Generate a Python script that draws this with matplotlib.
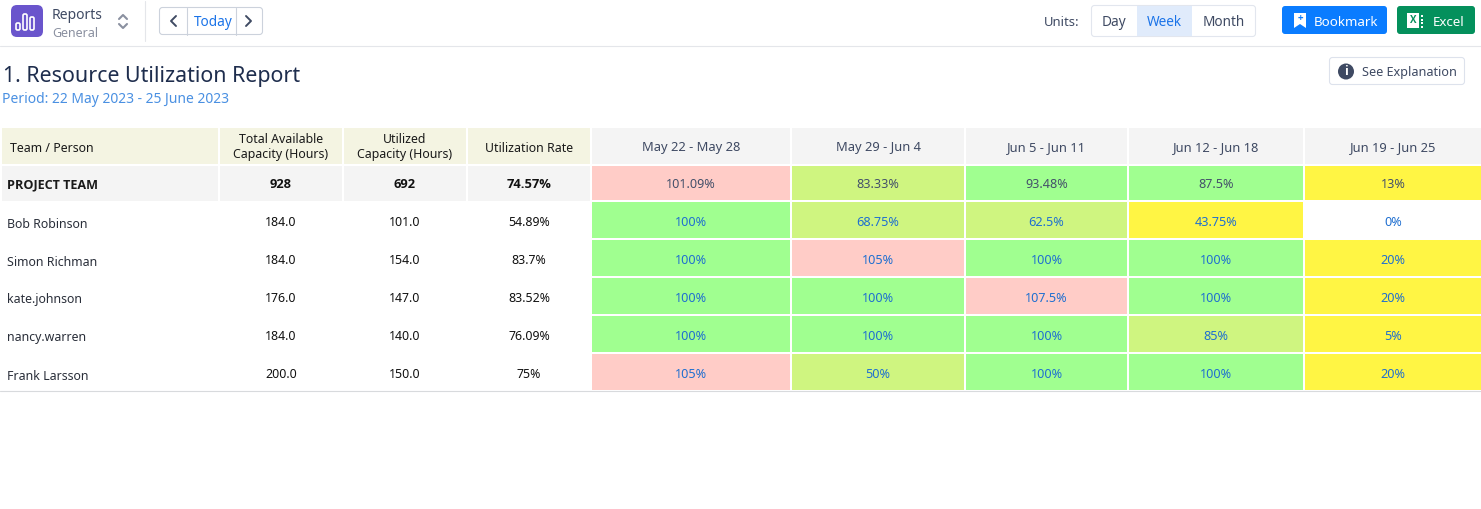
import matplotlib
matplotlib.use('Agg')
import matplotlib.pyplot as plt
from matplotlib.patches import FancyBboxPatch, Rectangle, Circle, Polygon

plt.rcParams['font.family'] = ['Noto Sans', 'DejaVu Sans']

# table data
people = ['Bob Robinson', 'Simon Richman', 'kate.johnson', 'nancy.warren', 'Frank Larsson']
total_hours = ['184.0', '184.0', '176.0', '184.0', '200.0']
used_hours = ['101.0', '154.0', '147.0', '140.0', '150.0']
rates = ['54.89%', '83.7%', '83.52%', '76.09%', '75%']
team_row = ['928', '692', '74.57%']
weeks = ['May 22 - May 28', 'May 29 - Jun 4', 'Jun 5 - Jun 11', 'Jun 12 - Jun 18', 'Jun 19 - Jun 25']
team_weeks = [101.09, 83.33, 93.48, 87.5, 13]
person_weeks = [
    [100, 68.75, 62.5, 43.75, 0],
    [100, 105, 100, 100, 20],
    [100, 100, 107.5, 100, 20],
    [100, 100, 100, 85, 5],
    [105, 50, 100, 100, 20],
]

# layout in pixels
col_x = [(2, 218), (220, 342), (344, 466), (468, 590), (592, 790),
         (792, 964), (966, 1127), (1129, 1303), (1305, 1481)]
row_y = [(166, 200), (202, 238), (240, 276), (278, 314), (316, 352), (354, 390)]
NAVY = '#1e2d4d'
GREY = '#3f4a63'
BLUE = '#1a73e8'
CREAM = '#f4f4e2'
LIGHT = '#f4f4f4'


def cell_colour(v):
    if v > 100:
        return '#ffccc7'
    if v >= 86:
        return '#a0ff90'
    if v >= 50:
        return '#cff580'
    if v > 0:
        return '#fff544'
    return 'white'


def pct(v):
    return f'{v:g}%'


fig = plt.figure(figsize=(14.81, 5.09), dpi=100)
ax = fig.add_axes([0, 0, 1, 1])
ax.set_xlim(0, 1481)
ax.set_ylim(509, 0)
ax.axis('off')


def box(x0, y0, x1, y1, fc, ec='none', r=3, lw=1, z=2):
    p = FancyBboxPatch((x0 + r, y0 + r), x1 - x0 - 2 * r, y1 - y0 - 2 * r,
                       boxstyle=f'round,pad={r},rounding_size={r}',
                       fc=fc, ec=ec, lw=lw, zorder=z)
    ax.add_patch(p)


def rect(x0, y0, x1, y1, fc, z=1):
    ax.add_patch(Rectangle((x0, y0), x1 - x0, y1 - y0, fc=fc, ec='none', zorder=z))


def txt(x, y, s, size=9.4, color='#222222', ha='center', weight='normal', **kw):
    if weight == 'bold':
        # Noto Sans here has no bold face, Open Sans does
        kw['family'] = ['Open Sans', 'DejaVu Sans']
    ax.text(x, y, s, fontsize=size, color=color, ha=ha, va='center',
            fontweight=weight, zorder=5, **kw)


def line(xs, ys, color, lw=1.0, z=3):
    ax.plot(xs, ys, color=color, lw=lw, zorder=z, solid_capstyle='round')


# top bar
line([0, 1481], [46, 46], '#e4e6ea', 0.8)
line([144.5, 144.5], [1, 41], '#e4e6ea', 0.8)
box(11, 5, 43, 37, '#6a55cc', r=6)
for bx, by in [(18, 23), (25, 14), (32, 17)]:
    box(bx - 2, by, bx + 2, 30, 'none', ec='white', r=1.5, lw=1.2, z=3)
txt(52, 15, 'Reports', 10, GREY, ha='left')
txt(52, 33, 'General', 9, '#8a90a0', ha='left')
line([119, 123, 127], [19, 15, 19], '#8a90a0', 1.5)
line([119, 123, 127], [24, 28, 24], '#8a90a0', 1.5)

box(159.5, 7.5, 262.5, 34.5, 'white', ec='#ccd2dc', lw=0.8)
line([186.5, 186.5], [8, 34.5], '#ccd2dc', 0.8)
line([235.5, 235.5], [8, 34.5], '#ccd2dc', 0.8)
line([176, 171, 176], [16, 21, 26], GREY, 1.4)
line([246, 251, 246], [16, 21, 26], GREY, 1.4)
txt(213, 22, 'Today', 9.8, BLUE)

txt(1062, 22, 'Units:', 9.4, GREY)
box(1091.5, 5.5, 1255.5, 36.5, 'white', ec='#e2e6ee', lw=0.8)
rect(1137, 6, 1192, 36, '#e0ebfb', z=3)
txt(1114, 22, 'Day', 9.8, GREY)
txt(1164, 22, 'Week', 9.8, BLUE)
txt(1224, 22, 'Month', 9.8, GREY)

box(1282, 6, 1387, 34, '#0a7cff', r=3)
ax.add_patch(Polygon([(1294, 13), (1306, 13), (1306, 28), (1300, 24), (1294, 28)],
                     fc='white', ec='none', zorder=3))
txt(1300, 18.5, '+', 7, '#0a7cff', weight='bold')
txt(1346, 22, 'Bookmark', 9.6, 'white')
box(1397, 6, 1475, 34, '#04905c', r=3)
rect(1407, 13, 1419, 28, 'white', z=3)
txt(1413, 20.5, 'X', 7, '#04905c', weight='bold')
for ly in [15, 18.5, 22, 25.5]:
    rect(1421, ly, 1423, ly + 2, 'white', z=3)
txt(1449, 22, 'Excel', 9.6, 'white')

# heading
txt(3, 76, '1. Resource Utilization Report', 15.4, NAVY, ha='left')
txt(2.5, 99, 'Period: 22 May 2023 - 25 June 2023', 10, '#4a90e2', ha='left')
box(1329.5, 57.5, 1464.5, 84.5, 'white', ec='#dde2ec', lw=0.8)
ax.add_patch(Circle((1346, 71.5), 8, fc=GREY, ec='none', zorder=3))
txt(1346, 71.5, 'i', 9, 'white', weight='bold')
txt(1362, 72, 'See Explanation', 9.1, GREY, ha='left')

# header row
for i, (x0, x1) in enumerate(col_x):
    rect(x0, 128, x1, 164, CREAM if i < 4 else LIGHT)
txt(10, 148.5, 'Team / Person', 8.9, '#1a1a1a', ha='left')
txt(281, 147, 'Total Available\nCapacity (Hours)', 8.9, '#1a1a1a', linespacing=1.15)
txt(405, 147, 'Utilized\nCapacity (Hours)', 8.9, '#1a1a1a', linespacing=1.15)
txt(529.5, 148.5, 'Utilization Rate', 8.9, '#1a1a1a')
for i, w in enumerate(weeks):
    x0, x1 = col_x[i + 4]
    txt((x0 + x1) / 2, 148, w, 9.3, GREY)

# team row
y0, y1 = row_y[0]
for x0, x1 in col_x[:4]:
    rect(x0, y0, x1, y1 + 1, LIGHT)
txt(7, 185, 'PROJECT TEAM', 9.1, '#1a1a1a', ha='left', weight='bold')
for i, s in enumerate(team_row):
    x0, x1 = col_x[i + 1]
    txt((x0 + x1) / 2, 185, s, 9.3, '#111111', weight='bold')
for i, v in enumerate(team_weeks):
    x0, x1 = col_x[i + 4]
    rect(x0, y0, x1, y1, cell_colour(v))
    txt((x0 + x1) / 2, 185, pct(v), 9.1, '#44506a')

# person rows
for r, name in enumerate(people):
    y0, y1 = row_y[r + 1]
    ym = (y0 + y1) / 2
    txt(7, ym + 4, name, 8.9, '#2a2f3a', ha='left')
    for i, s in enumerate([total_hours[r], used_hours[r], rates[r]]):
        x0, x1 = col_x[i + 1]
        txt((x0 + x1) / 2, ym + 2, s, 8.9, '#111111')
    for i, v in enumerate(person_weeks[r]):
        x0, x1 = col_x[i + 4]
        rect(x0, y0, x1, y1, cell_colour(v))
        txt((x0 + x1) / 2, ym + 2, pct(v), 9.1, '#1f6fd0')

line([0, 1481], [391, 391], '#d8dadd', 0.8)

fig.savefig('out.png', dpi=100)
